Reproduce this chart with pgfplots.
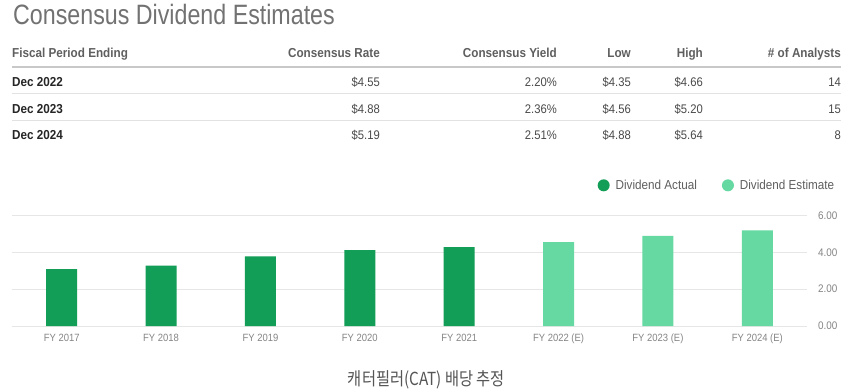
\documentclass[border=0pt]{standalone}
\usepackage{fontspec}
\setmainfont{Liberation Sans}[FakeStretch=0.9]
\newfontfamily\titlefont{Liberation Sans}[FakeStretch=0.83]
\newfontfamily\krfont{Noto Sans CJK KR}[FakeStretch=0.85]
\usepackage{pgfplots}
\pgfplotsset{compat=1.18}
\pgfplotsset{dotlegend/.style={legend image code/.code={\fill[##1] (0bp,0bp) circle (6bp);}}}
\definecolor{dgreen}{HTML}{129E56}
\definecolor{lgreen}{HTML}{66D9A2}
\definecolor{titlegray}{HTML}{727272}
\definecolor{headgray}{HTML}{5F5F5F}
\definecolor{rowblack}{HTML}{262626}
\definecolor{valgray}{HTML}{4A4A4A}
\definecolor{tickgray}{HTML}{858585}
\definecolor{gridgray}{HTML}{E6E6E6}
\definecolor{capgray}{HTML}{555555}
\newcommand\fs[1]{\fontsize{#1bp}{#1bp}\selectfont}
\begin{document}
\begin{tikzpicture}[x=1bp,y=1bp]
\fill[white] (0,0) rectangle (851,-391);
\path[use as bounding box] (0,0) rectangle (851,-391);
% title
\node[anchor=base west, inner sep=0, text=titlegray, font=\titlefont\fs{28}] at (13,-24.5) {Consensus Dividend Estimates};
% header
\begin{scope}[every node/.style={inner sep=0, font=\bfseries\fs{13}, text=headgray}]
\node[anchor=base west] at (12,-57.5) {Fiscal Period Ending};
\node[anchor=base east] at (380,-57.5) {Consensus Rate};
\node[anchor=base east] at (557,-57.5) {Consensus Yield};
\node[anchor=base east] at (631,-57.5) {Low};
\node[anchor=base east] at (703,-57.5) {High};
\node[anchor=base east] at (841,-57.5) {\# of Analysts};
\end{scope}
\draw[line width=2bp, color={rgb,255:red,200;green,200;blue,200}] (12,-67) -- (841,-67);
\draw[line width=1bp, color={rgb,255:red,226;green,226;blue,226}] (12,-93.5) -- (841,-93.5);
\draw[line width=1bp, color={rgb,255:red,226;green,226;blue,226}] (12,-120) -- (841,-120);
% rows
\begin{scope}[every node/.style={inner sep=0, font=\fs{12.5}, text=valgray}]
\node[anchor=base west, font=\bfseries\fs{13}, text=rowblack] at (12,-86.5) {Dec 2022};
\node[anchor=base east] at (380,-86.5) {\$4.55};
\node[anchor=base east] at (557,-86.5) {2.20\%};
\node[anchor=base east] at (631,-86.5) {\$4.35};
\node[anchor=base east] at (703,-86.5) {\$4.66};
\node[anchor=base east] at (841,-86.5) {14};
\node[anchor=base west, font=\bfseries\fs{13}, text=rowblack] at (12,-113) {Dec 2023};
\node[anchor=base east] at (380,-113) {\$4.88};
\node[anchor=base east] at (557,-113) {2.36\%};
\node[anchor=base east] at (631,-113) {\$4.56};
\node[anchor=base east] at (703,-113) {\$5.20};
\node[anchor=base east] at (841,-113) {15};
\node[anchor=base west, font=\bfseries\fs{13}, text=rowblack] at (12,-139.5) {Dec 2024};
\node[anchor=base east] at (380,-139.5) {\$5.19};
\node[anchor=base east] at (557,-139.5) {2.51\%};
\node[anchor=base east] at (631,-139.5) {\$4.88};
\node[anchor=base east] at (703,-139.5) {\$5.64};
\node[anchor=base east] at (841,-139.5) {8};
\end{scope}
\begin{axis}[
  at={(12bp,-326bp)}, anchor=south west,
  scale only axis, width=795bp, height=110.7bp,
  xmin=-0.5, xmax=7.5, ymin=0, ymax=6,
  ytick={0,2,4,6}, yticklabel pos=right,
  xtick={0,1,2,3,4,5,6,7},
  xticklabels={FY 2017,FY 2018,FY 2019,FY 2020,FY 2021,FY 2022 (E),FY 2023 (E),FY 2024 (E)},
  axis line style={draw=none},
  major tick length=0pt,
  ymajorgrids, grid style={gridgray, line width=1bp},
  /pgf/number format/assume math mode=true,
  yticklabel style={/pgf/number format/.cd, fixed, fixed zerofill, precision=2, /tikz/.cd, anchor=west, inner sep=0pt, xshift=11bp, font=\fs{11}, text=tickgray},
  xticklabel style={anchor=north, inner sep=0pt, yshift=-8bp, font=\fs{10.5}, text=tickgray},
  legend style={at={(1.037,1.271)}, anchor=east, draw=none, fill=none, inner sep=0pt, font=\fs{13}, text=headgray, legend columns=2, /tikz/every odd column/.append style={column sep=4bp}, /tikz/every even column/.append style={column sep=23bp}},
]
\addplot[ybar, bar width=31bp, bar shift=0pt, fill=dgreen, draw=none, dotlegend] coordinates {(0,3.08) (1,3.28) (2,3.78) (3,4.12) (4,4.28)};
\addlegendentry{Dividend Actual}
\addplot[ybar, bar width=31bp, bar shift=0pt, fill=lgreen, draw=none, dotlegend] coordinates {(5,4.55) (6,4.88) (7,5.19)};
\addlegendentry{Dividend Estimate}
\end{axis}
\node[text=capgray, font=\krfont\fs{18}] at (426.5,-379.5) {캐터필러(CAT) 배당 추정};
\end{tikzpicture}
\end{document}
